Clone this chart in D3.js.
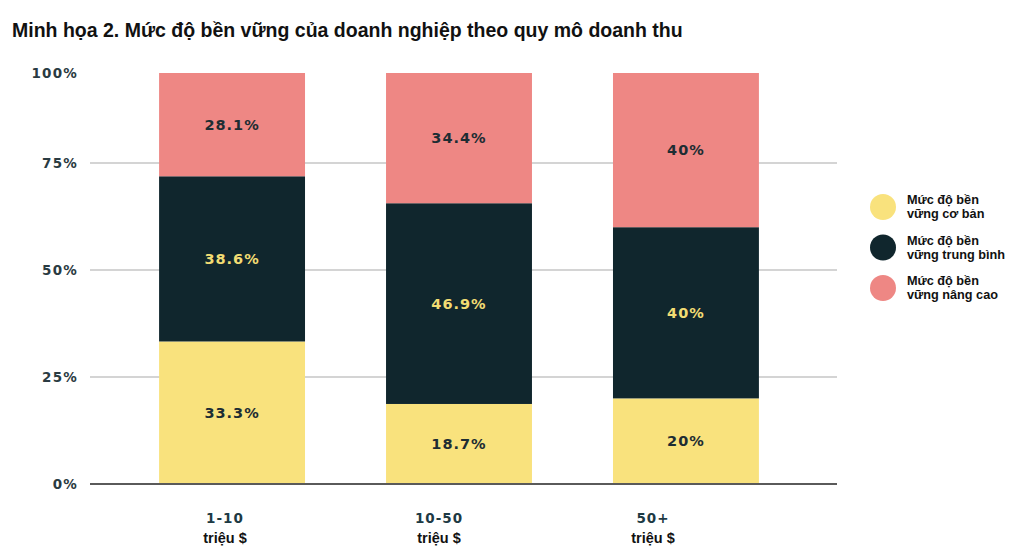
<!DOCTYPE html>
<html><head><meta charset="utf-8">
<script src="https://cdn.jsdelivr.net/npm/d3@7"></script>
<style>body{margin:0;background:#fff}</style>
</head><body>
<svg id="c" width="1024" height="559"></svg>
<script>
const categories = ["1-10", "10-50", "50+"];
const categorySub = ["triệu $", "triệu $", "triệu $"];
const seriesNames = ["Mức độ bền vững cơ bản", "Mức độ bền vững trung bình", "Mức độ bền vững nâng cao"];
const legendLines = [["Mức độ bền", "vững cơ bản"], ["Mức độ bền", "vững trung bình"], ["Mức độ bền", "vững nâng cao"]];
const basic = [33.3, 18.7, 20];
const medium = [38.6, 46.9, 40];
const advanced = [28.1, 34.4, 40];
const yTicks = [0, 25, 50, 75, 100];
const colors = ["#F9E27D", "#10262D", "#EE8784"];
const labelColors = ["#1d2d33", "#F2DC73", "#1d2d33"];

const plotTop = 73; // visible top of the plot area (bars are clipped here)

const svg = d3.select("#c");
svg.append("text").attr("x", 12).attr("y", 37)
  .attr("font-family", "Liberation Sans, Arial, sans-serif").attr("font-weight", "bold")
  .attr("font-size", 19.5).attr("fill", "#111")
  .text("Minh họa 2. Mức độ bền vững của doanh nghiệp theo quy mô doanh thu");

const x = d3.scaleBand().domain(categories).range([91, 827]).paddingInner(0.357).paddingOuter(0.3);
const y = d3.scaleLinear().domain([0, 100]).range([484, 56]);
const xLab = d3.scalePoint().domain(categories).range([225, 653]);

svg.append("defs").append("clipPath").attr("id", "plot")
  .append("rect").attr("x", 0).attr("y", plotTop).attr("width", 1024).attr("height", y(0) - plotTop + 2);

// gridlines
svg.append("g").selectAll("line").data(yTicks.filter(d => d > 0 && d < 100)).join("line")
  .attr("x1", 90).attr("x2", 837).attr("y1", d => y(d)).attr("y2", d => y(d))
  .attr("stroke", "#d4d4d4").attr("stroke-width", 2);

// y axis labels
const yAxis = d3.axisLeft(y).tickValues(yTicks).tickFormat(d => d + "%").tickSize(0).tickPadding(0);
const ya = svg.append("g").attr("transform", "translate(78,0)").call(yAxis);
ya.select(".domain").remove();
ya.selectAll(".tick").filter(d => d === 100).attr("transform", `translate(0,${plotTop + 1})`);
ya.selectAll("text").attr("font-family", "DejaVu Sans, sans-serif").attr("font-size", 13.5)
  .attr("font-weight", 600).attr("fill", "#2a3b42").attr("letter-spacing", 1.2);

// stacked data
const rows = categories.map((c, i) => ({cat: c, s0: basic[i], s1: medium[i], s2: advanced[i]}));
const stack = d3.stack().keys(["s0", "s1", "s2"])(rows);

const g = svg.append("g");
const bars = g.append("g").attr("clip-path", "url(#plot)");
stack.forEach((layer, li) => {
  bars.selectAll(null).data(layer).join("rect")
    .attr("x", d => x(d.data.cat)).attr("width", x.bandwidth())
    .attr("y", d => y(d[1])).attr("height", d => y(d[0]) - y(d[1]))
    .attr("fill", colors[li]);
  g.selectAll(null).data(layer).join("text")
    .attr("x", d => x(d.data.cat) + x.bandwidth() / 2)
    .attr("y", d => (y(d[0]) + Math.max(y(d[1]), plotTop)) / 2)
    .attr("dy", "0.36em").attr("text-anchor", "middle")
    .attr("font-family", "DejaVu Sans, sans-serif").attr("font-size", 14.5).attr("font-weight", 600)
    .attr("letter-spacing", 1).attr("fill", labelColors[li])
    .text(d => d.data[layer.key] + "%");
});

// baseline
svg.append("line").attr("x1", 90).attr("x2", 837).attr("y1", y(0)).attr("y2", y(0))
  .attr("stroke", "#5a5a5a").attr("stroke-width", 2);

// x labels
const xl = svg.append("g");
xl.selectAll(null).data(categories).join("text")
  .attr("x", d => xLab(d)).attr("y", 523).attr("text-anchor", "middle")
  .attr("font-family", "DejaVu Sans, sans-serif").attr("font-size", 13.5).attr("font-weight", 600)
  .attr("letter-spacing", 1).attr("fill", "#1d3a44").text(d => d);
xl.selectAll(null).data(categories).join("text")
  .attr("x", d => xLab(d)).attr("y", 543).attr("text-anchor", "middle")
  .attr("font-family", "Liberation Sans, Arial, sans-serif").attr("font-size", 14.5).attr("font-weight", "bold")
  .attr("fill", "#111").text((d, i) => categorySub[i]);

// legend
const lg = svg.append("g");
seriesNames.forEach((s, i) => {
  const cy = 207 + i * 40.5;
  lg.append("circle").attr("cx", 883).attr("cy", cy).attr("r", 13).attr("fill", colors[i]);
  legendLines[i].forEach((t, j) => {
    lg.append("text").attr("x", 907).attr("y", cy - 3 + j * 14)
      .attr("font-family", "Liberation Sans, Arial, sans-serif").attr("font-size", 12.7).attr("font-weight", "bold")
      .attr("fill", "#111").text(t);
  });
});
</script>
</body></html>
